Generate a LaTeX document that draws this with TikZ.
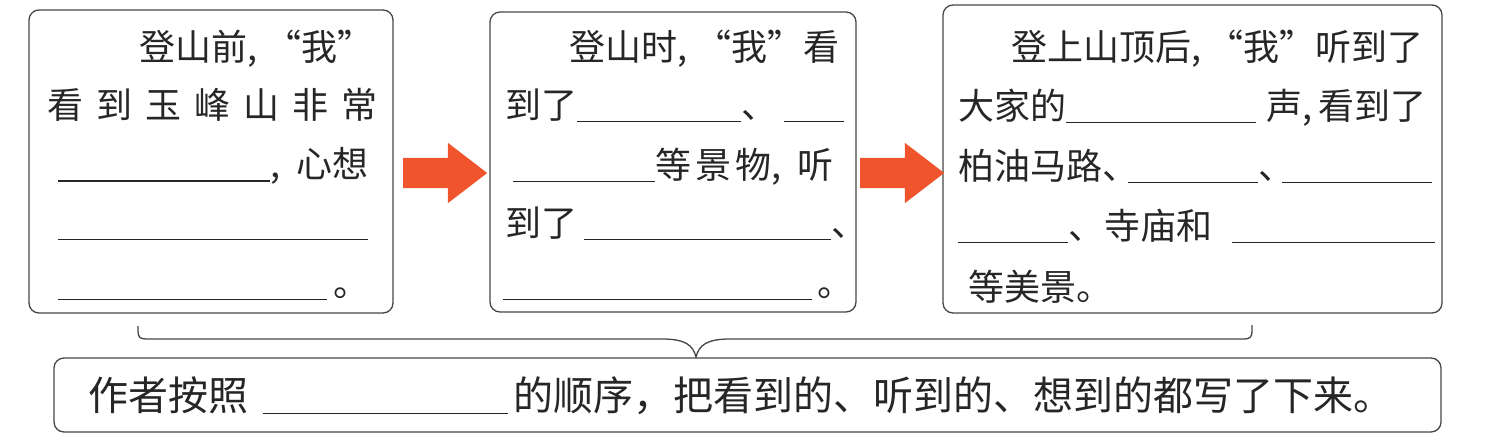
\documentclass[tikz,border=0pt]{standalone}
\usepackage{fontspec}
\usepackage{xcolor}
\usepackage{tikz}
\usetikzlibrary{shapes.arrows}
\newfontfamily\cjk{Noto Sans CJK SC}
\definecolor{arrowred}{RGB}{240, 84, 44}
\definecolor{framegray}{RGB}{70, 70, 70}
\newcommand{\blank}[1]{\rule[-4pt]{#1pt}{1.3pt}}

\begin{document}
\begin{tikzpicture}[x=1pt, y=-1pt,
    textbox/.style={draw=framegray, line width=1.3pt, rounded corners=10pt, inner sep=0pt},
    line/.style={font=\cjk\fontsize{36}{40}\selectfont, anchor=base west, inner sep=0pt, text=black!85},
    firstline/.style={line, anchor=base east},
    biglines/.style={line, font=\cjk\fontsize{40}{44}\selectfont},
    flowarrow/.style={single arrow, fill=arrowred, draw=none, inner xsep=0pt, inner ysep=15pt, anchor=tail,
        single arrow head extend=15pt, single arrow tip angle=75, minimum height=84pt}]
    \useasboundingbox (0,0) rectangle (1510,437);

    \node[textbox, minimum width=364pt, minimum height=303pt] (box1) at (211,161.5) {};
    \node[textbox, minimum width=366pt, minimum height=300pt] (box2) at (673,162) {};
    \node[textbox, minimum width=499pt, minimum height=308pt] (box3) at (1192.5,159) {};
    \node[textbox, minimum width=1387pt, minimum height=74pt] (summary) at (747.5,395) {};

    \node[flowarrow] (arr1) at (403,173) {};
    \node[flowarrow] (arr2) at (860,173) {};

    \node[firstline] (t1a) at (374,60) {登山前,\hspace{8pt}“我”};
    \node[line] (t1b) at (47,118) {\makebox[330pt][s]{看 到 玉 峰 山 非 常}};
    \node[line] (t1c) at (58,177.5) {\blank{212},\hspace{16pt}心想};
    \node[line] (t1d) at (58,236) {\blank{310}};
    \node[line] (t1e) at (58,296) {\blank{269}\hspace{6pt}。};

    \node[firstline] (t2a) at (840,60) {登山时,\hspace{8pt}“我”看};
    \node[line] (t2b) at (505,118) {到了\blank{164}、\hspace{7pt}\blank{60}};
    \node[line] (t2c) at (513,178) {\blank{142}等\hspace{4pt}景\hspace{4pt}物,\hspace{16pt}听};
    \node[line] (t2d) at (505,236) {到了\hspace{7pt}\blank{247}、};
    \node[line] (t2e) at (503,296) {\blank{309}\hspace{5pt}。};

    \node[firstline] (t3a) at (1424,60) {登上山顶后,\hspace{6pt}“我”听到了};
    \node[line] (t3b) at (958,119) {大家的\blank{190}\hspace{10pt}声,\hspace{6pt}看到了};
    \node[line] (t3c) at (958,179) {柏油马路、\hspace{-10pt}\blank{130}、\hspace{-12pt}\blank{150}};
    \node[line] (t3d) at (958,239) {\blank{110}、寺庙和\hspace{20pt}\blank{203}};
    \node[line] (t3e) at (968,300) {等美景。};

    \node[biglines] (t4) at (88,410) {作者按照\hspace{15pt}\blank{245}\hspace{5pt}的顺序，把看到的、听到的、想到的都写了下来。};

    \draw[draw=framegray, line width=1.3pt] (138,326) -- (138,331) .. controls (138,337) and (140,339) .. (146,339)
        -- (662,339) .. controls (685,339) and (693,345) .. (696,357)
        .. controls (699,345) and (707,339) .. (730,339) -- (1244,339)
        .. controls (1250,339) and (1252,337) .. (1252,331) -- (1252,325);
\end{tikzpicture}
\end{document}
